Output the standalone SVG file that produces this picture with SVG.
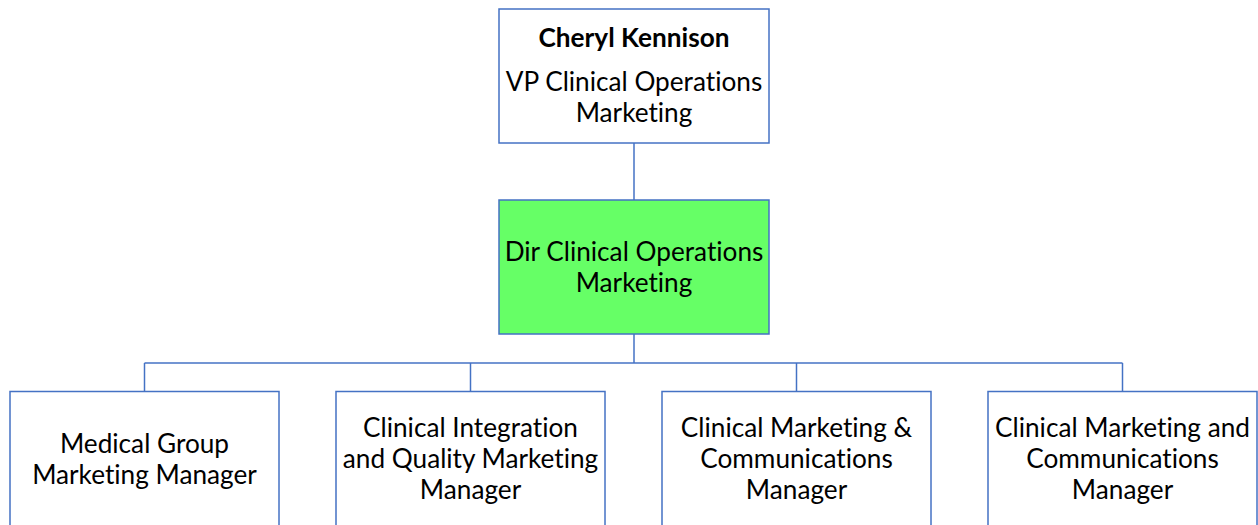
<svg xmlns="http://www.w3.org/2000/svg" width="1258" height="525" viewBox="0 0 1258 525">
  <style>
    .box { fill: #ffffff; stroke: #4472c4; stroke-width: 1.5; }
    .box.hl { fill: #66ff66; }
    .link { fill: none; stroke: #4472c4; stroke-width: 1.5; }
    text { font-family: Lato, "Liberation Sans", sans-serif; font-size: 26.2px; fill: #000000; text-anchor: middle; font-variant-ligatures: none; font-feature-settings: "liga" 0; }
    .name { font-weight: bold; }
  </style>
  <rect width="1258" height="525" fill="#ffffff"/>

  <g id="connectors">
    <path class="link" d="M634 143 V200"/>
    <path class="link" d="M634 334 V363"/>
    <path class="link" d="M144.5 363 H1122.5"/>
    <path class="link" d="M144.5 363 V391.5"/>
    <path class="link" d="M470.5 363 V391.5"/>
    <path class="link" d="M796.5 363 V391.5"/>
    <path class="link" d="M1122.5 363 V391.5"/>
  </g>

  <g id="vp">
    <rect class="box" x="499" y="9" width="270" height="134"/>
    <text class="name" x="634" y="47">Cheryl Kennison</text>
    <text x="634" y="91">VP Clinical Operations</text>
    <text x="634" y="122">Marketing</text>
  </g>

  <g id="director">
    <rect class="box hl" x="499" y="200" width="270" height="134"/>
    <text x="634" y="261">Dir Clinical Operations</text>
    <text x="634" y="292">Marketing</text>
  </g>

  <g id="medical-group">
    <rect class="box" x="10" y="391.5" width="269" height="150"/>
    <text x="144.5" y="452.5">Medical Group</text>
    <text x="144.5" y="483.5">Marketing Manager</text>
  </g>

  <g id="integration-quality">
    <rect class="box" x="336" y="391.5" width="269" height="150"/>
    <text x="470.5" y="437">Clinical Integration</text>
    <text x="470.5" y="468">and Quality Marketing</text>
    <text x="470.5" y="499">Manager</text>
  </g>

  <g id="marketing-comms-amp">
    <rect class="box" x="662" y="391.5" width="269" height="150"/>
    <text x="796.5" y="437">Clinical Marketing &amp;</text>
    <text x="796.5" y="468">Communications</text>
    <text x="796.5" y="499">Manager</text>
  </g>

  <g id="marketing-comms-and">
    <rect class="box" x="988" y="391.5" width="269" height="150"/>
    <text x="1122.5" y="437">Clinical Marketing and</text>
    <text x="1122.5" y="468">Communications</text>
    <text x="1122.5" y="499">Manager</text>
  </g>
</svg>
